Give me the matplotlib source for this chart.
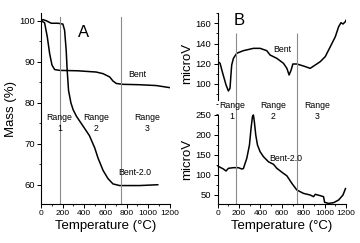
import numpy as np
import matplotlib
matplotlib.use("Agg")
import matplotlib.pyplot as plt
from matplotlib.ticker import MultipleLocator

plt.rcParams['font.family'] = ['Liberation Sans', 'DejaVu Sans']

# panel A: TG curves (Temperature in C, mass in %)
bent_t = [0, 31, 56, 78, 100, 125, 172, 342, 454, 513, 578, 640, 671, 703, 764, 920, 1075, 1200]
bent_m = [100, 99.5, 96.1, 92.0, 89.2, 88.1, 87.9, 87.8, 87.6, 87.5, 87.1, 86.3, 85.3, 84.7, 84.5, 84.4, 84.2, 83.7]
bent2_t = [0, 15, 47, 93, 156, 202, 218, 233, 242, 255, 277, 298, 329, 391, 450, 500, 531,
           578, 624, 671, 733, 920, 1090]
bent2_m = [100, 100.3, 100, 99.4, 99.4, 99.2, 97.7, 92.8, 88.0, 83.0, 80.0, 78.3, 76.7, 74.3, 72.0,
           69.0, 66.5, 63.5, 61.5, 60.2, 59.8, 59.8, 60.0]

# panel B: DTA curves (microV)
dta_bent_t = [15, 22, 47, 78, 100, 115, 125, 131, 147, 178, 240, 334, 397, 459, 490, 553, 615, 647,
              668, 687, 703, 740, 803, 865, 912, 959, 1006, 1053, 1100, 1131, 1153, 1172, 1194, 1200]
dta_bent_v = [121, 120.4, 110.5, 98.9, 93.0, 95.6, 110.5, 118.7, 125.3, 130.3, 132.9, 135.2, 135.2,
              132.9, 128.6, 125.3, 120.4, 115.4, 108.8, 113.8, 119.7, 119.7, 117.7, 115.4, 118.7,
              122.0, 127.0, 136.8, 146.7, 156.6, 160.6, 159.3, 161.6, 163.0]
dta_bent2_t = [5, 12, 53, 78, 100, 147, 194, 225, 240, 272, 297, 312, 325, 334, 343, 356, 372, 397,
               428, 475, 522, 553, 615, 647, 694, 740, 803, 865, 897, 912, 959, 990, 1000, 1037,
               1084, 1131, 1172, 1195]
dta_bent2_v = [122, 120.8, 115, 110, 116.7, 118.3, 118.3, 115, 116, 141.7, 175, 216.7, 245.8, 250,
               233, 200, 175, 158, 145.8, 133, 126.7, 116.7, 104, 98, 79, 62.5, 54, 50, 45.8, 51.7,
               48.3, 45.8, 31.7, 29, 30.8, 37.5, 50, 66]

range_pos_a = [170, 516, 992]
range_pos_b = [131, 522, 934]
range_names = ['1', '2', '3']
bounds = [175, 745]

W, H = 360, 243
fig = plt.figure(figsize=(W / 100, H / 100), dpi=100)


def px_axes(l, t, r, b):
    return fig.add_axes([l / W, 1 - b / H, (r - l) / W, (b - t) / H])


def style(ax, xticks=True):
    for s in ['top', 'right']:
        ax.spines[s].set_visible(False)
    for s in ['left', 'bottom']:
        ax.spines[s].set_linewidth(0.8)
    ax.tick_params(which='major', direction='out', length=3, width=0.7, labelsize=6.8, pad=1.5)
    ax.tick_params(which='minor', direction='out', length=1.5, width=0.6)
    ax.tick_params(axis='x', labelsize=6)
    if not xticks:
        ax.spines['bottom'].set_visible(False)
        ax.tick_params(axis='x', which='both', bottom=False, labelbottom=False)


lc = '#8a8a8a'

# ---- panel A
axA = px_axes(41.3, 13, 169.5, 204)
axA.plot(bent_t, bent_m, color='black', lw=1.1)
axA.plot(bent2_t, bent2_m, color='black', lw=1.1)
axA.set_xlim(0, 1200)
axA.set_ylim(55.3, 101.9)
axA.xaxis.set_major_locator(MultipleLocator(200))
axA.xaxis.set_minor_locator(MultipleLocator(100))
axA.yaxis.set_major_locator(MultipleLocator(10))
axA.yaxis.set_minor_locator(MultipleLocator(5))
style(axA)
for b in bounds:
    axA.axvline(b, ymax=0.98, color=lc, lw=0.8)
for x, n in zip(range_pos_a, range_names):
    axA.text(x, 76.5, 'Range', fontsize=6.3, ha='center', va='center')
    axA.text(x, 73.8, n, fontsize=6.3, ha='center', va='center')
axA.text(900, 86.8, 'Bent', fontsize=6.3, ha='center', va='center')
axA.text(875, 63.1, 'Bent-2.0', fontsize=6.3, ha='center', va='center')
axA.text(0.33, 0.9, 'A', transform=axA.transAxes, fontsize=12, ha='center', va='center')
axA.set_xlabel('Temperature (°C)', fontsize=9.5, labelpad=2)
axA.set_ylabel('Mass (%)', fontsize=9.5, labelpad=2)

# ---- panel B bottom (drawn first, transparent, so labels above stay visible)
axB2 = px_axes(217.7, 115, 346, 204)
axB2.patch.set_visible(False)
axB2.plot(dta_bent2_t, dta_bent2_v, color='black', lw=1.1, clip_on=False)
axB2.set_xlim(0, 1200)
axB2.set_ylim(27.5, 250)
axB2.xaxis.set_major_locator(MultipleLocator(200))
axB2.xaxis.set_minor_locator(MultipleLocator(100))
axB2.yaxis.set_major_locator(MultipleLocator(50))
axB2.yaxis.set_minor_locator(MultipleLocator(25))
style(axB2)
for b in bounds:
    axB2.axvline(b, color=lc, lw=0.8)
axB2.text(640, 141.7, 'Bent-2.0', fontsize=6.3, ha='center', va='center')
axB2.set_xlabel('Temperature (°C)', fontsize=9.5, labelpad=2)
axB2.set_ylabel('microV', fontsize=9.5, labelpad=2)

# ---- panel B top
axB1 = px_axes(217.7, 12.7, 346, 115)
axB1.patch.set_visible(False)
axB1.plot(dta_bent_t, dta_bent_v, color='black', lw=1.1)
axB1.set_xlim(0, 1200)
axB1.set_ylim(69.2, 170.5)
axB1.yaxis.set_minor_locator(MultipleLocator(10))
style(axB1, xticks=False)
axB1.spines['left'].set_bounds(84, 170.5)
axB1.set_yticks([100, 120, 140, 160])
for b in bounds:
    axB1.vlines(b, 69.2, 150, color=lc, lw=0.8)
axB1.text(600, 133.6, 'Bent', fontsize=6.3, ha='center', va='center')
axB1.text(0.17, 0.92, 'B', transform=axB1.transAxes, fontsize=12, ha='center', va='center')
axB1.set_ylabel('microV', fontsize=9.5, labelpad=2)
for x, n in zip(range_pos_b, range_names):
    axB1.text(x, 79.1, 'Range', fontsize=6.3, ha='center', va='center')
    axB1.text(x, 67.8, n, fontsize=6.3, ha='center', va='center')

fig.savefig('out.png', dpi=100)
